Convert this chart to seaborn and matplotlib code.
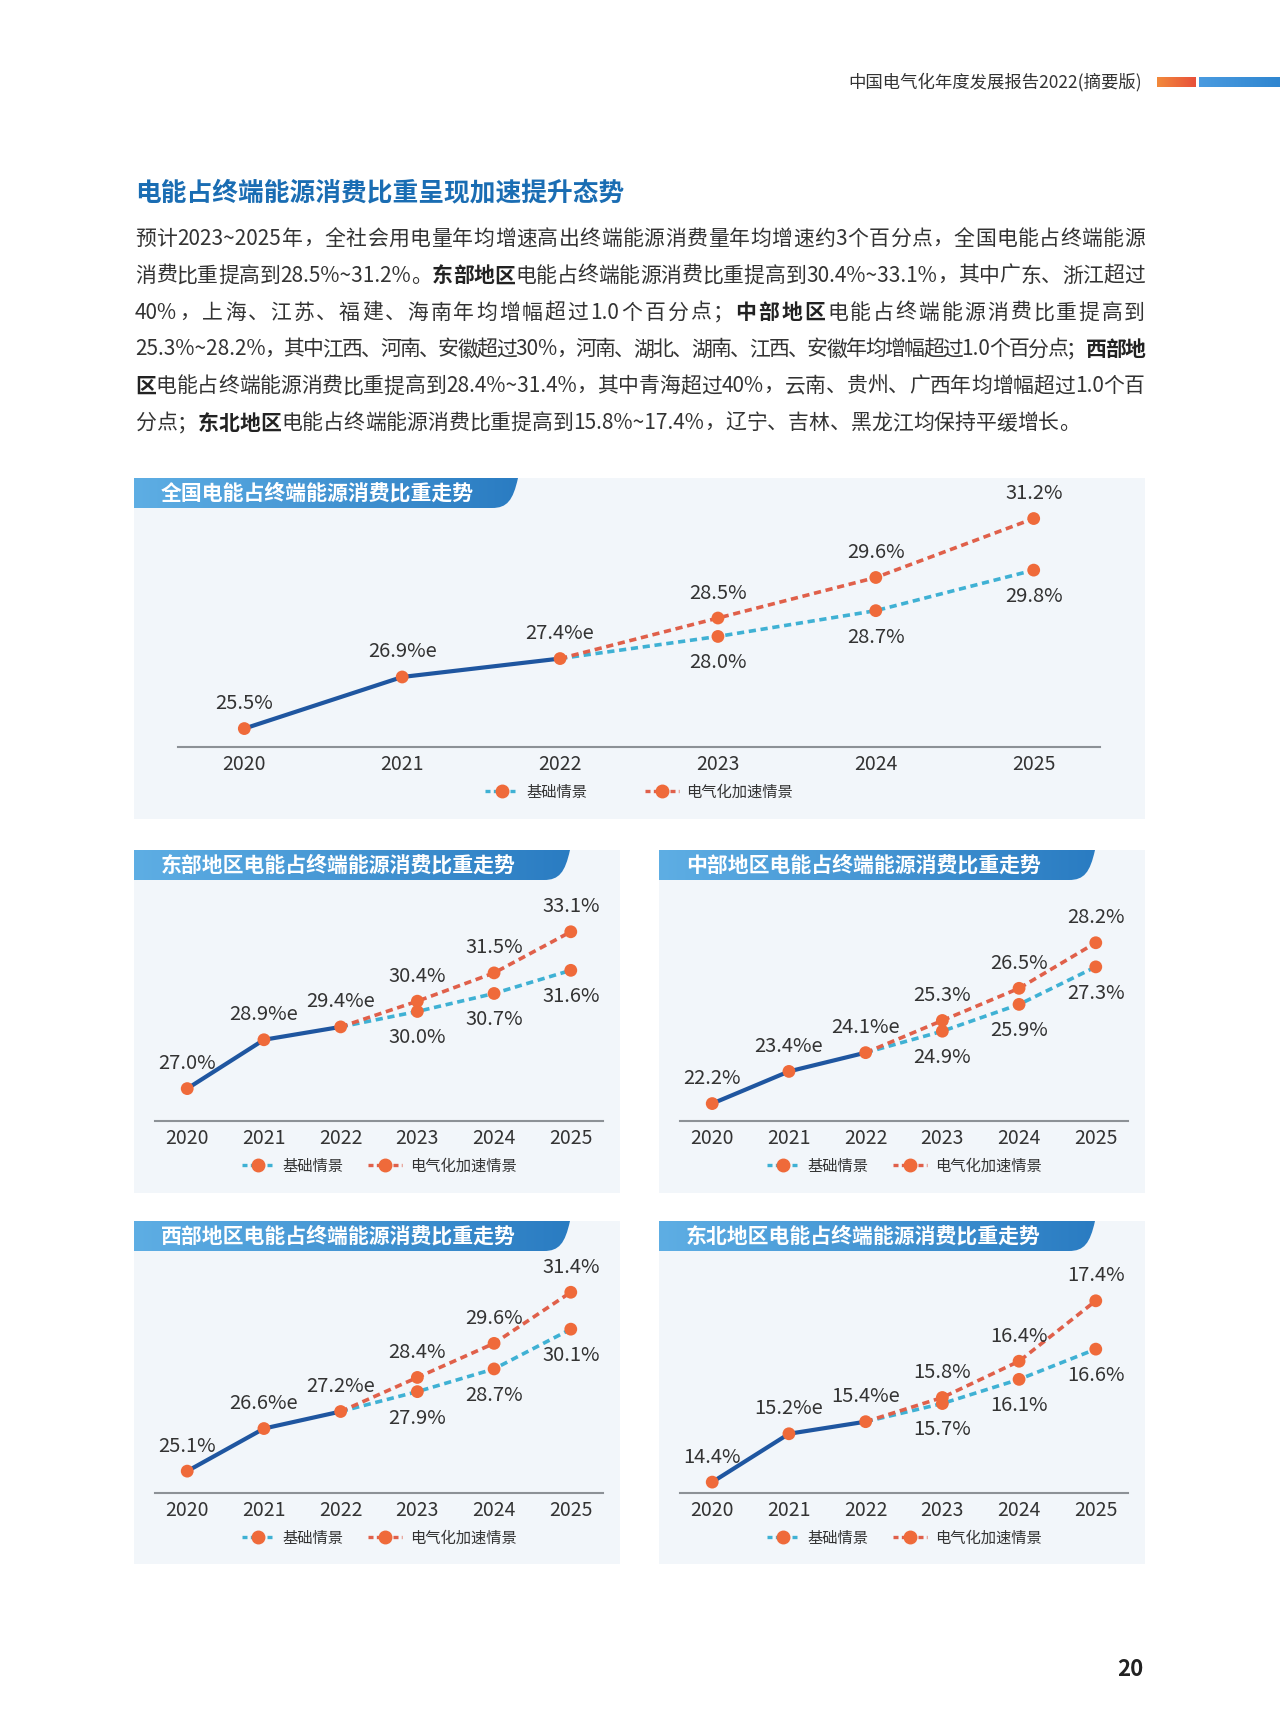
import numpy as np
import pandas as pd
import seaborn as sns
import matplotlib.pyplot as plt
from matplotlib.lines import Line2D
from matplotlib.patches import Rectangle, PathPatch
from matplotlib.path import Path
from matplotlib.colors import LinearSegmentedColormap

sns.set_theme(style="white")
plt.rcParams['font.family'] = ['Noto Sans CJK SC', 'DejaVu Sans']
plt.rcParams['axes.unicode_minus'] = False

# ---- data ----
years = [2020, 2021, 2022, 2023, 2024, 2025]
hist_years = [2020, 2021, 2022]
proj_years = [2022, 2023, 2024, 2025]
hist_suffix = ['%', '%e', '%e']

nat_hist = [25.5, 26.9, 27.4]
nat_base = [27.4, 28.0, 28.7, 29.8]
nat_fast = [27.4, 28.5, 29.6, 31.2]

east_hist = [27.0, 28.9, 29.4]
east_base = [29.4, 30.0, 30.7, 31.6]
east_fast = [29.4, 30.4, 31.5, 33.1]

mid_hist = [22.2, 23.4, 24.1]
mid_base = [24.1, 24.9, 25.9, 27.3]
mid_fast = [24.1, 25.3, 26.5, 28.2]

west_hist = [25.1, 26.6, 27.2]
west_base = [27.2, 27.9, 28.7, 30.1]
west_fast = [27.2, 28.4, 29.6, 31.4]

ne_hist = [14.4, 15.2, 15.4]
ne_base = [15.4, 15.7, 16.1, 16.6]
ne_fast = [15.4, 15.8, 16.4, 17.4]

legend_labels = ['基础情景', '电气化加速情景']
chart_titles = ['全国电能占终端能源消费比重走势', '东部地区电能占终端能源消费比重走势',
                '中部地区电能占终端能源消费比重走势', '西部地区电能占终端能源消费比重走势',
                '东北地区电能占终端能源消费比重走势']

header_text = '中国电气化年度发展报告2022(摘要版)'
section_title = '电能占终端能源消费比重呈现加速提升态势'
paragraph = [
    [('预计2023~2025年，全社会用电量年均增速高出终端能源消费量年均增速约3个百分点，全国电能占终端能源', False)],
    [('消费比重提高到28.5%~31.2%。', False), ('东部地区', True), ('电能占终端能源消费比重提高到30.4%~33.1%，其中广东、浙江超过', False)],
    [('40%，上海、江苏、福建、海南年均增幅超过1.0个百分点；', False), ('中部地区', True), ('电能占终端能源消费比重提高到', False)],
    [('25.3%~28.2%，其中江西、河南、安徽超过30%，河南、湖北、湖南、江西、安徽年均增幅超过1.0个百分点；', False), ('西部地', True)],
    [('区', True), ('电能占终端能源消费比重提高到28.4%~31.4%，其中青海超过40%，云南、贵州、广西年均增幅超过1.0个百', False)],
    [('分点；', False), ('东北地区', True), ('电能占终端能源消费比重提高到15.8%~17.4%，辽宁、吉林、黑龙江均保持平缓增长。', False)],
]
page_no = '20'

series = [(nat_hist, nat_base, nat_fast), (east_hist, east_base, east_fast),
          (mid_hist, mid_base, mid_fast), (west_hist, west_base, west_fast),
          (ne_hist, ne_base, ne_fast)]

# ---- styling / layout (pixels) ----
W, H = 1280, 1736
DARK = '#1f56a0'
TEAL = '#3fb1d4'
RED = '#e0604a'
ORANGE = '#ef6a3a'
PANEL = '#f2f6fa'
TXT = '#333333'

panels = [
    dict(box=(134, 478, 1145, 819), banner_w=384, axes=(178, 478, 1100, 747), ylim=(25.0, 32.30), colsp=3.8),
    dict(box=(134, 850, 620, 1193), banner_w=436, axes=(155, 850, 603, 1121), ylim=(25.74, 36.28), colsp=1.6),
    dict(box=(659, 850, 1145, 1193), banner_w=436, axes=(680, 850, 1128, 1121), ylim=(21.55, 31.66), colsp=1.6),
    dict(box=(134, 1221, 620, 1564), banner_w=436, axes=(155, 1221, 603, 1493), ylim=(24.33, 33.91), colsp=1.6),
    dict(box=(659, 1221, 1145, 1564), banner_w=436, axes=(680, 1221, 1128, 1493), ylim=(14.22, 18.72), colsp=1.6),
]

fig = plt.figure(figsize=(W / 100, H / 100), dpi=100)
fig.patch.set_facecolor('white')
bg = fig.add_axes([0, 0, 1, 1], zorder=0)
bg.set_xlim(0, W)
bg.set_ylim(H, 0)
bg.set_autoscale_on(False)
bg.axis('off')
renderer = fig.canvas.get_renderer()


def gradient_patch(patch, c0, c1, x0, x1, y0, y1):
    bg.add_patch(patch)
    cmap = LinearSegmentedColormap.from_list('g', [c0, c1])
    grad = np.linspace(0, 1, 256).reshape(1, -1)
    im = bg.imshow(grad, cmap=cmap, extent=(x0, x1, y1, y0), aspect='auto', zorder=patch.get_zorder())
    im.set_clip_path(patch)


# header
bg.text(1142, 82, header_text, ha='right', va='center', fontsize=12.5, color=TXT)
r1 = Rectangle((1157, 77), 39, 10, facecolor='none', edgecolor='none', zorder=2)
gradient_patch(r1, '#f28a3c', '#e8503a', 1157, 1196, 77, 87)
r2 = Rectangle((1199, 77), 81, 10, facecolor='none', edgecolor='none', zorder=2)
gradient_patch(r2, '#4a9be0', '#2f86d0', 1199, 1280, 77, 87)

bg.text(135, 193, section_title, ha='left', va='center', fontsize=18.5, weight='bold', color='#1a6db3')


# paragraph, justified line by line
def advance(tok, bold, fs):
    m = bg.text(0, 0, '国' + tok + '国', fontsize=fs, weight='bold' if bold else 'normal')
    w1 = m.get_window_extent(renderer).width
    m.set_text('国国')
    w0 = m.get_window_extent(renderer).width
    m.remove()
    return w1 - w0


def para_line(segs, y, justify, x0=135, width=1010, fs=15):
    toks = []
    for text, bold in segs:
        buf = ''
        for ch in text:
            if ord(ch) < 128:
                buf += ch
            else:
                if buf:
                    toks.append((buf, bold))
                    buf = ''
                toks.append((ch, bold))
        if buf:
            toks.append((buf, bold))
    widths = [advance(t, b, fs) for t, b in toks]
    gap = (width - sum(widths)) / (len(toks) - 1) if justify else 0
    x = x0
    for (t, b), w in zip(toks, widths):
        bg.text(x, y, t, ha='left', va='center', fontsize=fs,
                weight='bold' if b else 'normal', color='#222222' if b else TXT)
        x += w + gap


for i, segs in enumerate(paragraph):
    para_line(segs, 239 + i * 36.8, justify=(i < len(paragraph) - 1))

bg.text(1143, 1670, page_no, ha='right', va='center', fontsize=16, weight='bold', color='#222222')


def banner(x0, y0, bw, bh, title, fs=15):
    verts = [(x0, y0), (x0 + bw, y0), (x0 + bw - 5, y0 + bh * 0.75), (x0 + bw - 11, y0 + bh),
             (x0 + bw - 26, y0 + bh), (x0, y0 + bh), (x0, y0)]
    codes = [Path.MOVETO, Path.LINETO, Path.CURVE4, Path.CURVE4, Path.CURVE4, Path.LINETO, Path.CLOSEPOLY]
    p = PathPatch(Path(verts, codes), facecolor='none', edgecolor='none', zorder=2)
    gradient_patch(p, '#5eaee4', '#2a7cc2', x0, x0 + bw, y0, y0 + bh)
    bg.text(x0 + 27, y0 + bh / 2, title, ha='left', va='center', fontsize=fs, weight='bold', color='white', zorder=3)


def frac(x0, y0, x1, y1):
    return [x0 / W, 1 - y1 / H, (x1 - x0) / W, (y1 - y0) / H]


def label(ax, x, y, s, up):
    ax.annotate(s, (x, y), xytext=(0, 18 if up else -19), textcoords='offset points',
                ha='center', va='center', fontsize=14.5, color=TXT, zorder=6, annotation_clip=False)


for cfg, title, (hist, base, fast) in zip(panels, chart_titles, series):
    bx0, by0, bx1, by1 = cfg['box']
    bg.add_patch(Rectangle((bx0, by0), bx1 - bx0, by1 - by0, facecolor=PANEL, edgecolor='none', zorder=1))
    banner(bx0, by0, cfg['banner_w'], 30, title)

    ax = fig.add_axes(frac(*cfg['axes']), zorder=2)
    ax.set_facecolor('none')
    df_h = pd.DataFrame({'year': hist_years, 'share': hist})
    df_b = pd.DataFrame({'year': proj_years, 'share': base})
    df_f = pd.DataFrame({'year': proj_years, 'share': fast})
    sns.lineplot(data=df_h, x='year', y='share', ax=ax, color=DARK, lw=3.0, zorder=3)
    sns.lineplot(data=df_b, x='year', y='share', ax=ax, color=TEAL, lw=2.6, linestyle=(0, (2.0, 1.3)), zorder=3)
    sns.lineplot(data=df_f, x='year', y='share', ax=ax, color=RED, lw=2.6, linestyle=(0, (2.0, 1.3)), zorder=3)
    pts = pd.concat([df_h, df_b.iloc[1:], df_f.iloc[1:]])
    sns.scatterplot(data=pts, x='year', y='share', ax=ax, color=ORANGE, s=85, edgecolor='none', zorder=5)

    for yr, v, suf in zip(hist_years, hist, hist_suffix):
        label(ax, yr, v, f'{v:.1f}{suf}', True)
    for yr, v in zip(proj_years[1:], base[1:]):
        label(ax, yr, v, f'{v:.1f}%', False)
    for yr, v in zip(proj_years[1:], fast[1:]):
        label(ax, yr, v, f'{v:.1f}%', True)

    ax.set_xlim(years[0] - 0.42, years[-1] + 0.42)
    ax.set_ylim(*cfg['ylim'])
    ax.set_xticks(years)
    ax.set_xticklabels([str(y) for y in years], weight='medium')
    ax.set_yticks([])
    ax.set_xlabel('')
    ax.set_ylabel('')
    ax.tick_params(axis='x', length=0, pad=5, labelsize=14, labelcolor=TXT)
    for s in ['top', 'left', 'right']:
        ax.spines[s].set_visible(False)
    ax.spines['bottom'].set_color('#8c9196')
    ax.spines['bottom'].set_linewidth(1.5)

    axh = cfg['axes'][3] - cfg['axes'][1]
    handles = [Line2D([], [], color=c, lw=2.4, ls=(0, (1.5, 1.0)), marker='o', ms=9,
                      mfc=ORANGE, mec=ORANGE) for c in (TEAL, RED)]
    ax.legend(handles, legend_labels, loc='center', bbox_to_anchor=(0.5, -45 / axh), ncol=2,
              frameon=False, fontsize=11, labelcolor=TXT, handlelength=2.2, handletextpad=0.5,
              columnspacing=cfg['colsp'], borderaxespad=0)

fig.savefig('out.png', dpi=100)
